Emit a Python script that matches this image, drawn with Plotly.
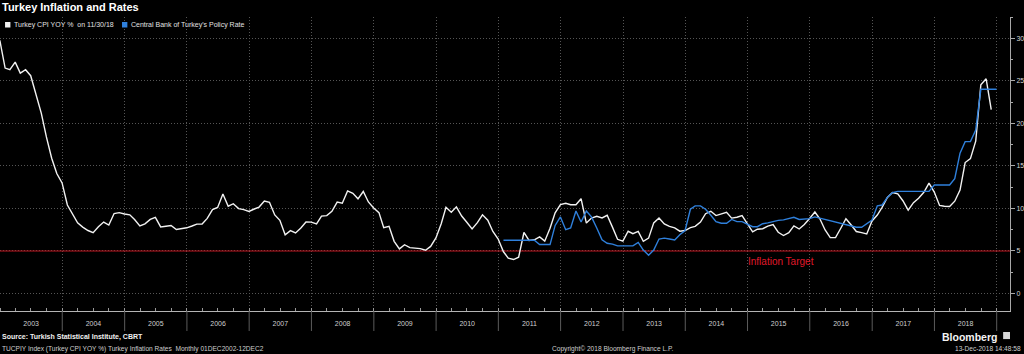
import pandas as pd
import plotly.graph_objects as go

# ---------------- data ----------------
# Turkey CPI YoY %, monthly, Dec 2002 .. Nov 2018
CPI_START = "2002-12-31"
CPI = [29.75,
       26.5, 26.3, 27.2, 25.9, 26.3, 25.6, 23.5, 21.2, 18.4, 15.9, 14.1, 13.0,
       10.4, 9.3, 8.3, 7.8, 7.4, 7.15, 7.85, 8.4, 8.05, 9.4, 9.5, 9.35,
       9.24, 8.69, 7.94, 8.18, 8.70, 8.95, 7.82, 7.91, 7.99, 7.52, 7.61, 7.72,
       7.93, 8.15, 8.16, 8.83, 9.86, 10.12, 11.69, 10.26, 10.55, 9.98, 9.86, 9.65,
       9.93, 10.16, 10.86, 10.72, 9.23, 8.60, 6.90, 7.39, 7.12, 7.70, 8.40, 8.39,
       8.17, 9.10, 9.15, 9.66, 10.74, 10.61, 12.06, 11.77, 11.13, 11.99, 10.76, 10.06,
       9.50, 7.73, 7.89, 6.13, 5.24, 5.73, 5.39, 5.33, 5.27, 5.08, 5.53, 6.53,
       8.19, 10.13, 9.56, 10.19, 9.10, 8.37, 7.58, 8.33, 9.24, 8.62, 7.29, 6.40,
       4.90, 4.16, 3.99, 4.26, 7.17, 6.24, 6.31, 6.65, 6.15, 7.66, 9.48, 10.45,
       10.61, 10.43, 10.43, 11.14, 8.28, 8.87, 9.07, 8.88, 9.19, 7.80, 6.37, 6.16,
       7.31, 7.03, 7.29, 6.13, 6.51, 8.30, 8.88, 8.17, 7.88, 7.71, 7.32, 7.40,
       7.75, 7.89, 8.39, 9.38, 9.66, 9.16, 9.32, 9.54, 8.86, 8.96, 9.15, 8.17,
       7.24, 7.55, 7.61, 7.91, 8.09, 7.20, 6.81, 7.14, 7.95, 7.58, 8.10, 8.81,
       9.58, 8.78, 7.46, 6.57, 6.58, 7.64, 8.79, 8.05, 7.28, 7.16, 7.00, 8.53,
       9.22, 10.13, 11.29, 11.87, 11.72, 10.90, 9.79, 10.68, 11.20, 11.90, 12.98, 11.92,
       10.35, 10.26, 10.23, 10.85, 12.15, 15.39, 15.85, 17.90, 24.52, 25.24, 21.62]

# Central Bank of Turkey's policy rate %, monthly, Jan 2011 .. Dec 2018
RATE_START = "2011-01-31"
RATE = [6.25, 6.25, 6.25, 6.25, 6.25, 6.25, 6.25, 5.75, 5.75, 5.75, 8.0, 9.0,
        7.5, 7.7, 9.7, 8.4, 9.7, 9.0, 7.7, 6.3, 5.9, 5.8, 5.6, 5.6,
        5.6, 5.6, 6.0, 5.1, 4.5, 5.1, 6.4, 6.5, 6.4, 6.3, 6.9, 7.4,
        9.9, 10.3, 10.3, 9.9, 9.2, 8.45, 8.25, 8.25, 8.7, 8.45, 8.45, 8.1,
        7.85, 7.85, 8.2, 8.3, 8.45, 8.6, 8.65, 8.8, 8.95, 8.7, 8.75, 8.8,
        9.0, 8.85, 8.64, 8.5, 8.37, 8.2, 8.05, 7.9, 7.78, 7.78, 8.25, 8.64,
        10.3, 10.4, 11.3, 11.85, 12.0, 12.0, 12.0, 12.0, 12.0, 12.0, 12.0, 12.75,
        12.75, 12.75, 12.75, 13.5, 16.5, 17.85, 17.85, 19.2, 24.0, 24.0, 24.0, 24.0]

TARGET = 5
SEP_YEARS = list(range(2004, 2020))
X_RANGE = ["2003-01-01", "2019-03-20"]
Y_RANGE = [-2.06, 32.5]

CPI_NAME = "Turkey CPI YOY %  on 11/30/18"
RATE_NAME = "Central Bank of Turkey's Policy Rate"

# ---------------- figure ----------------
FONT = "Liberation Sans, Arial, sans-serif"
WHITE = "#f2f2f2"
BLUE = "#2f80dc"
RED = "#c0141e"
GRID = "#555555"

cpi_dates = pd.date_range(CPI_START, periods=len(CPI), freq=pd.offsets.MonthEnd())
rate_dates = pd.date_range(RATE_START, periods=len(RATE), freq=pd.offsets.MonthEnd())

fig = go.Figure()
# inflation target line (a trace, so it sits above the dotted grid)
fig.add_trace(go.Scatter(x=X_RANGE, y=[TARGET, TARGET], mode="lines", name="Inflation Target",
                         line=dict(color=RED, width=1.1), showlegend=False, hoverinfo="skip"))
fig.add_trace(go.Scatter(x=cpi_dates, y=CPI, mode="lines", name=CPI_NAME,
                         line=dict(color=WHITE, width=1.4), showlegend=False))
fig.add_trace(go.Scatter(x=rate_dates, y=RATE, mode="lines", name=RATE_NAME,
                         line=dict(color=BLUE, width=1.4), showlegend=False))

shapes = []
# year separators below the axis
for yr in SEP_YEARS:
    d = f"{yr}-01-01"
    shapes.append(dict(type="line", xref="x", x0=d, x1=d, yref="paper", y0=0, y1=-0.068,
                       line=dict(color="#5c5c5c", width=1)))
# legend squares
shapes.append(dict(type="rect", xref="paper", yref="paper", x0=0.005, x1=0.0103,
                   y0=0.9643, y1=0.983, fillcolor=WHITE, line=dict(width=0)))
shapes.append(dict(type="rect", xref="paper", yref="paper", x0=0.1208, x1=0.1261,
                   y0=0.9643, y1=0.983, fillcolor=BLUE, line=dict(width=0)))
# Bloomberg mark
shapes.append(dict(type="rect", xref="paper", yref="paper", x0=0.9932, x1=1.0,
                   y0=-0.0955, y1=-0.0714, fillcolor="#d8d8d8", line=dict(width=0)))

def ann(text, x, y, size=7, color="#d8d8d8", xanchor="left", bold=False, xref="paper", yref="paper"):
    return dict(text=f"<b>{text}</b>" if bold else text, x=x, y=y, xref=xref, yref=yref,
                xanchor=xanchor, yanchor="middle", showarrow=False,
                font=dict(family=FONT, size=size, color=color))

annotations = [
    ann("Turkey Inflation and Rates", 0.0, 1.034, size=11, color="#ffffff", bold=True),
    ann(CPI_NAME, 0.0118, 0.973, size=7, color="#e0e0e0"),
    ann(RATE_NAME, 0.1275, 0.973, size=7, color="#e0e0e0"),
    ann("Inflation Target", "2015-07-18", 3.8, size=10, color="#e0182a", xanchor="center",
        xref="x", yref="y"),
    ann("Source: Turkish Statistical Institute, CBRT", 0.0, -0.0884, size=7, color="#f0f0f0", bold=True),
    ann("TUCPIY Index (Turkey CPI YOY %) Turkey Inflation Rates  Monthly 01DEC2002-12DEC2",
        0.0, -0.129, size=6.6, color="#cfcfcf"),
    ann("Copyright\u00a9 2018 Bloomberg Finance L.P.", 0.606, -0.129, size=6.6, color="#cfcfcf",
        xanchor="center"),
    ann("13-Dec-2018 14:48:58", 1.0129, -0.129, size=6.6, color="#cfcfcf", xanchor="right"),
    ann("Bloomberg", 0.989, -0.0884, size=10.5, color="#f4f4f4", xanchor="right", bold=True),
]

fig.update_layout(
    width=1024, height=354, autosize=False,
    margin=dict(l=0, r=14, t=17, b=43, pad=0),
    paper_bgcolor="#000000", plot_bgcolor="#000000",
    font=dict(family=FONT, size=7, color="#d0d0d0"),
    showlegend=False,
    shapes=shapes, annotations=annotations,
    xaxis=dict(type="date", range=X_RANGE, dtick="M12", tick0="2003-01-01",
               tickformat="%Y", ticklabelmode="period", ticklabelstandoff=6,
               ticks="inside", ticklen=3, tickcolor="#9a9a9a",
               showgrid=True, gridcolor=GRID, griddash="1px,2px", gridwidth=1,
               showline=True, linecolor="#b4b4b4", linewidth=1, zeroline=False,
               tickfont=dict(family=FONT, size=7, color="#cfcfcf"),
               minor=dict(dtick="M3", ticks="inside", ticklen=3, tickcolor="#9a9a9a",
                          showgrid=False)),
    yaxis=dict(side="right", range=Y_RANGE, dtick=5, tick0=0,
               ticks="outside", ticklen=4, tickcolor="#a8a8a8",
               showgrid=True, gridcolor=GRID, griddash="1px,2px", gridwidth=1,
               showline=True, linecolor="#a8a8a8", linewidth=1, zeroline=False,
               tickfont=dict(family=FONT, size=7, color="#d6d6d6"),
               minor=dict(dtick=2.5, ticks="outside", ticklen=2, tickcolor="#a8a8a8",
                          showgrid=False)),
)

fig.write_html("out.html")
